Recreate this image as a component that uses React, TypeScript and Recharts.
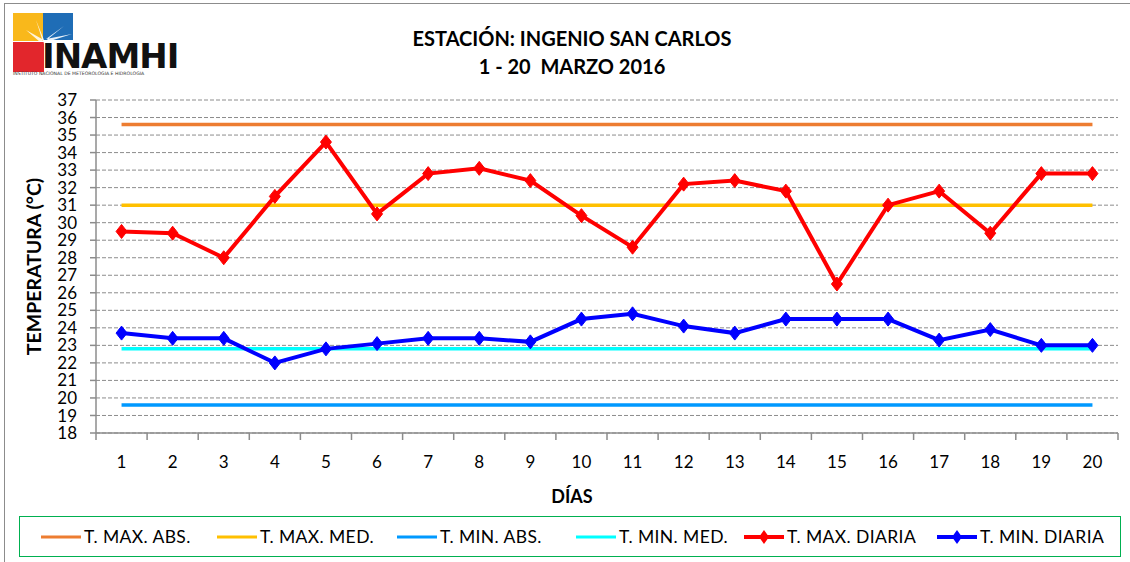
import React from 'react';
import {
  LineChart,
  Line,
  XAxis,
  YAxis,
  CartesianGrid,
  ReferenceLine,
} from 'recharts';

// ---------------------------------------------------------------------------
// Data
// ---------------------------------------------------------------------------

const DAYS = ['1', '2', '3', '4', '5', '6', '7', '8', '9', '10', '11', '12', '13', '14', '15', '16', '17', '18', '19', '20'];

const T_MAX_DIARIA = [29.5, 29.4, 28.0, 31.5, 34.6, 30.5, 32.8, 33.1, 32.4, 30.4, 28.6, 32.2, 32.4, 31.8, 26.5, 31.0, 31.8, 29.4, 32.8, 32.8];
const T_MIN_DIARIA = [23.7, 23.4, 23.4, 22.0, 22.8, 23.1, 23.4, 23.4, 23.2, 24.5, 24.8, 24.1, 23.7, 24.5, 24.5, 24.5, 23.3, 23.9, 23.0, 23.0];

const T_MAX_ABS = 35.6;
const T_MAX_MED = 31.0;
const T_MIN_ABS = 19.6;
const T_MIN_MED = 22.8;

const Y_TICKS = [18, 19, 20, 21, 22, 23, 24, 25, 26, 27, 28, 29, 30, 31, 32, 33, 34, 35, 36, 37];

const LEGEND = [
  { label: 'T. MAX. ABS.', color: '#ED7D31', marker: false },
  { label: 'T. MAX. MED.', color: '#FFC000', marker: false },
  { label: 'T. MIN. ABS.', color: '#0099FF', marker: false },
  { label: 'T. MIN. MED.', color: '#00FFFF', marker: false },
  { label: 'T. MAX. DIARIA', color: '#FF0000', marker: true },
  { label: 'T. MIN. DIARIA', color: '#0000FF', marker: true },
];

const data = DAYS.map((d, i) => ({ day: d, tmax: T_MAX_DIARIA[i], tmin: T_MIN_DIARIA[i] }));

// ---------------------------------------------------------------------------
// Layout
// ---------------------------------------------------------------------------

const W = 1130;
const H = 562;
const X_AXIS_H = 129;
const MARGIN = { top: 100, right: 12, bottom: 0, left: 0 };
const Y_AXIS_W = 96;
const BAND = (W - MARGIN.right - Y_AXIS_W) / DAYS.length;
const FONT = 'Lato, "Open Sans", sans-serif';
const GRID = '#8c8c8c';

// ---------------------------------------------------------------------------
// Pieces
// ---------------------------------------------------------------------------

const Diamond = (props: any) => {
  const { cx, cy, stroke } = props;
  if (cx == null || cy == null) return null;
  return (
    <polygon
      points={`${cx},${cy - 7} ${cx + 5.5},${cy} ${cx},${cy + 7} ${cx - 5.5},${cy}`}
      fill={stroke}
      stroke={stroke}
      strokeWidth={1}
    />
  );
};

const XTick = (props: any) => {
  const { x, y, payload, index } = props;
  const last = index === DAYS.length - 1;
  return (
    <g>
      <line x1={x - BAND / 2} x2={x - BAND / 2} y1={y} y2={y + 7} stroke={GRID} strokeWidth={1.5} />
      {last && <line x1={x + BAND / 2} x2={x + BAND / 2} y1={y} y2={y + 7} stroke={GRID} strokeWidth={1.5} />}
      <text x={x} y={y + 35} textAnchor="middle" fontSize={17} fill="#000" fontFamily={FONT}>
        {payload.value}
      </text>
    </g>
  );
};

const Logo = () => (
  <svg width={175} height={70} style={{ position: 'absolute', left: 12, top: 12 }}>
    <rect x={1} y={1} width={30} height={28} fill="#F9B81B" />
    <rect x={31} y={1} width={30} height={27} fill="#1F6DB6" />
    <rect x={1} y={30} width={31} height={30} fill="#E2262C" />
    <polygon points="31,31 52,14 34,27 60,22 35,30 50,36" fill="#fff" opacity={0.9} />
    <polygon points="28,30 14,18 30,27 24,8 32,28" fill="#fff" opacity={0.85} />
    <text x={30} y={56} fontSize={34} fontWeight={800} fontFamily='"DejaVu Sans", sans-serif' fill="#111" letterSpacing={-1}>
      INAMHI
    </text>
    <text x={1} y={63} fontSize={4.6} fontFamily='"DejaVu Sans", sans-serif' fill="#333">
      INSTITUTO NACIONAL DE METEOROLOGIA E HIDROLOGIA
    </text>
  </svg>
);

const Legend = () => (
  <div
    style={{
      position: 'absolute',
      left: 19,
      top: 516,
      width: 1102,
      height: 41,
      border: '1.5px solid #00B050',
      boxSizing: 'border-box',
      fontFamily: FONT,
      fontSize: 17.5,
    }}
  >
    {LEGEND.map((it, i) => {
      const lefts = [20, 196, 376, 555, 723, 916];
      return (
        <div
          key={it.label}
          style={{ position: 'absolute', left: lefts[i], top: 9, display: 'flex', alignItems: 'center', whiteSpace: 'nowrap' }}
        >
          <svg width={42} height={16}>
            <line x1={1} x2={41} y1={8} y2={8} stroke={it.color} strokeWidth={it.marker ? 4 : 3} />
            {it.marker && <polygon points="21,1 26,8 21,15 16,8" fill={it.color} />}
          </svg>
          <span style={{ marginLeft: 2, letterSpacing: 0.4 }}>{it.label}</span>
        </div>
      );
    })}
  </div>
);

// ---------------------------------------------------------------------------
// Component
// ---------------------------------------------------------------------------

export default function App() {
  return (
    <div style={{ position: 'absolute', left: 0, top: 0, width: W, height: H, background: '#fff', overflow: 'hidden' }}>
      <div
        style={{
          position: 'absolute',
          left: 4,
          top: 3,
          width: W - 4,
          height: H,
          borderTop: '1.5px solid #8c8c8c',
          borderLeft: '1.5px solid #8c8c8c',
          boxSizing: 'border-box',
        }}
      />
      <Logo />
      <div
        style={{
          position: 'absolute',
          left: 0,
          top: 24,
          width: 1144,
          textAlign: 'center',
          fontFamily: FONT,
          fontWeight: 700,
          fontSize: 20,
          lineHeight: '28px',
        }}
      >
        <div>ESTACIÓN: INGENIO SAN CARLOS</div>
        <div>1 - 20&nbsp;&nbsp;MARZO 2016</div>
      </div>

      <LineChart width={W} height={H} data={data} margin={MARGIN} style={{ position: 'absolute', left: 0, top: 0 }}>
        <CartesianGrid horizontal vertical={false} stroke={GRID} strokeDasharray="4 2" />
        <XAxis
          dataKey="day"
          type="category"
          scale="band"
          axisLine={{ stroke: GRID, strokeWidth: 1.5 }}
          tickLine={false}
          tickSize={0}
          tickMargin={0}
          interval={0}
          tick={<XTick />}
          height={X_AXIS_H}
        />
        <YAxis
          type="number"
          domain={[18, 37]}
          ticks={Y_TICKS}
          interval={0}
          width={Y_AXIS_W}
          axisLine={{ stroke: GRID, strokeWidth: 1.5 }}
          tickLine={{ stroke: GRID, strokeWidth: 1.5 }}
          tickSize={6}
          tickMargin={13}
          tick={{ fontSize: 17, fill: '#000', fontFamily: FONT }}
          label={{
            value: 'TEMPERATURA (°C)',
            angle: -90,
            position: 'insideLeft',
            offset: 34,
            style: { fontSize: 19.5, fontWeight: 700, fill: '#000', fontFamily: FONT, textAnchor: 'middle' },
          }}
        />
        <ReferenceLine segment={[{ x: DAYS[0], y: T_MAX_ABS }, { x: DAYS[DAYS.length - 1], y: T_MAX_ABS }]} stroke="#ED7D31" strokeWidth={3.5} />
        <ReferenceLine segment={[{ x: DAYS[0], y: T_MAX_MED }, { x: DAYS[DAYS.length - 1], y: T_MAX_MED }]} stroke="#FFC000" strokeWidth={3.5} />
        <ReferenceLine segment={[{ x: DAYS[0], y: T_MIN_ABS }, { x: DAYS[DAYS.length - 1], y: T_MIN_ABS }]} stroke="#0099FF" strokeWidth={3.5} />
        <ReferenceLine segment={[{ x: DAYS[0], y: T_MIN_MED }, { x: DAYS[DAYS.length - 1], y: T_MIN_MED }]} stroke="#00FFFF" strokeWidth={3.5} />
        <Line
          type="linear"
          dataKey="tmax"
          stroke="#FF0000"
          strokeWidth={4}
          dot={<Diamond />}
          activeDot={false}
          isAnimationActive={false}
        />
        <Line
          type="linear"
          dataKey="tmin"
          stroke="#0000FF"
          strokeWidth={4}
          dot={<Diamond />}
          activeDot={false}
          isAnimationActive={false}
        />
      </LineChart>

      <div
        style={{
          position: 'absolute',
          left: 0,
          top: 485,
          width: 1144,
          textAlign: 'center',
          fontFamily: FONT,
          fontWeight: 700,
          fontSize: 18,
        }}
      >
        DÍAS
      </div>
      <Legend />
    </div>
  );
}
